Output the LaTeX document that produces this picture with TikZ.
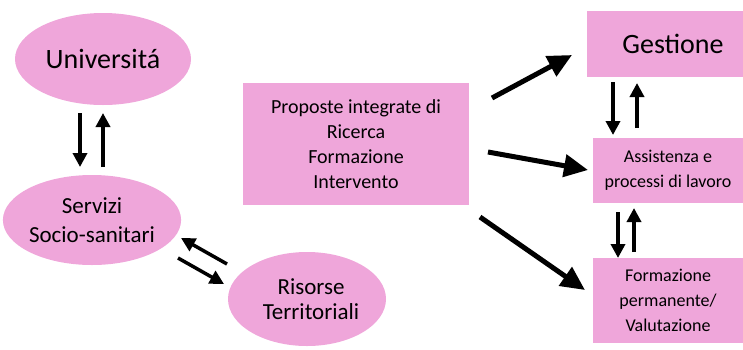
\documentclass[tikz,border=0pt]{standalone}
\usepackage{fontspec}
\setmainfont{Carlito}
\usetikzlibrary{arrows.meta,shapes.geometric}
\definecolor{pinkfill}{RGB}{239,166,218}
\begin{document}
\begin{tikzpicture}[x=1pt,y=-1pt,
  ell/.style={ellipse,fill=pinkfill,inner sep=0pt,align=center},
  box/.style={rectangle,fill=pinkfill,inner sep=0pt,align=center},
  thinarrow/.style={line width=3.5pt,-{Triangle[length=14pt,width=14pt]}},
  bigarrow/.style={line width=5pt,-{Triangle[length=24pt,width=22pt]}}]
\useasboundingbox (0,0) rectangle (743,349);
% nodes
\node[ell,minimum width=176pt,minimum height=92pt,font=\fontsize{28}{32}\selectfont] (uni) at (103,59) {Universitá};
\node[ell,minimum width=176pt,minimum height=90pt,font=\fontsize{23}{29}\selectfont] (serv) at (92,220) {Servizi\\Socio-sanitari};
\node[ell,minimum width=158pt,minimum height=94pt] (ris) at (307,299) {};
\node[align=center,inner sep=0pt,font=\fontsize{23}{25}\selectfont] (risT) at (311,299) {Risorse\\Territoriali};
\node[box,minimum width=226pt,minimum height=122pt,font=\fontsize{20}{25}\selectfont] (prop) at (356,144) {Proposte integrate di\\Ricerca\\Formazione\\Intervento};
\node[box,minimum width=156pt,minimum height=66pt] (gest) at (665,44) {};
\node[inner sep=0pt,font=\fontsize{28}{32}\selectfont] (gestT) at (673,44) {Gestione};
\node[box,minimum width=150pt,minimum height=65pt,font=\fontsize{18}{25}\selectfont] (ass) at (668,170.5) {Assistenza e\\processi di lavoro};
\node[box,minimum width=150pt,minimum height=85pt,font=\fontsize{18}{25}\selectfont] (form) at (668,300.5) {Formazione\\permanente/\\Valutazione};
% arrow end points
\coordinate (us1) at (80,113);  \coordinate (us2) at (80,167);
\coordinate (su1) at (103,167); \coordinate (su2) at (103,113);
\coordinate (rs1) at (227,264); \coordinate (rs2) at (181,238);
\coordinate (sr1) at (178,258); \coordinate (sr2) at (224,284);
\coordinate (ga1) at (613,82);  \coordinate (ga2) at (613,135);
\coordinate (ag1) at (637,128); \coordinate (ag2) at (637,83);
\coordinate (af1) at (618,212); \coordinate (af2) at (618,258);
\coordinate (fa1) at (634,252); \coordinate (fa2) at (634,208);
\coordinate (pg1) at (492,98);  \coordinate (pg2) at (572,55);
\coordinate (pa1) at (488,152); \coordinate (pa2) at (588,170);
\coordinate (pf1) at (480,217); \coordinate (pf2) at (585,290);
% connectors
\draw[thinarrow] (us1) -- (us2);
\draw[thinarrow] (su1) -- (su2);
\draw[thinarrow] (rs1) -- (rs2);
\draw[thinarrow] (sr1) -- (sr2);
\draw[thinarrow] (ga1) -- (ga2);
\draw[thinarrow] (ag1) -- (ag2);
\draw[thinarrow] (af1) -- (af2);
\draw[thinarrow] (fa1) -- (fa2);
\draw[bigarrow] (pg1) -- (pg2);
\draw[bigarrow] (pa1) -- (pa2);
\draw[bigarrow] (pf1) -- (pf2);
\end{tikzpicture}
\end{document}
